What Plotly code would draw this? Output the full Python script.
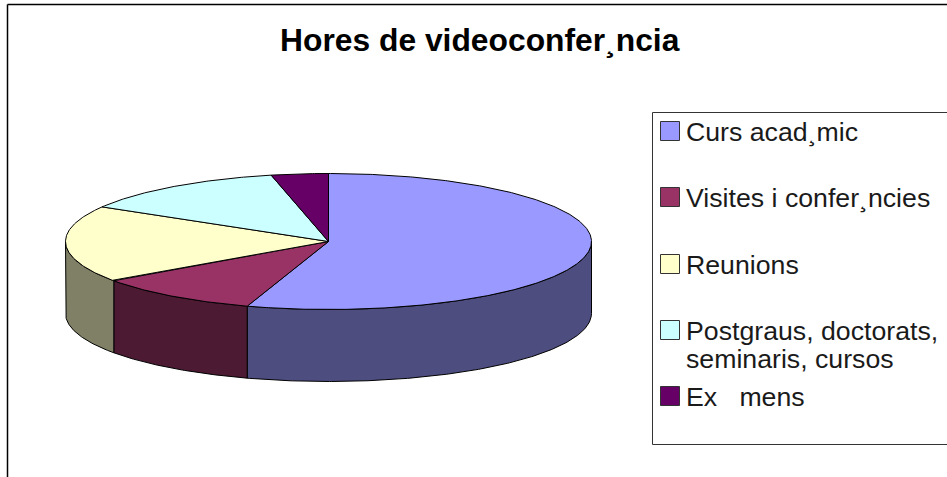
import numpy as np
import plotly.graph_objects as go

title = "Hores de videoconfer¸ncia"
categories = ["Curs acad¸mic", "Visites i confer¸ncies", "Reunions",
              "Postgraus, doctorats, seminaris, cursos", "Ex\u00a0\u00a0\u00a0mens"]
legend_lines = [["Curs acad¸mic"], ["Visites i confer¸ncies"], ["Reunions"],
                ["Postgraus, doctorats,", "seminaris, cursos"], ["Ex\u00a0\u00a0\u00a0mens"]]
values = [55.0, 10.2, 18.3, 13.0, 3.5]
top_colors = ["#9999FF", "#993366", "#FFFFCC", "#CCFFFF", "#660066"]
side_colors = ["#4D4D80", "#4D1A33", "#808066", "#668080", "#330033"]

W, H = 947, 477
CX, CY, RX, RY, DEPTH = 328.5, 241.5, 263, 68, 72
LINE = dict(color="#000000", width=1)

fracs = np.array(values) / sum(values)
edges = np.concatenate([[0], np.cumsum(fracs)]) * 2 * np.pi


def arc(a0, a1, dy=0.0):
    t = np.linspace(a0, a1, max(int((a1 - a0) * 120), 2))
    return CX + RX * np.sin(t), CY - RY * np.cos(t) + dy


fig = go.Figure()
front0, front1 = np.pi / 2, 3 * np.pi / 2
for i, name in enumerate(categories):
    a0, a1 = max(edges[i], front0), min(edges[i + 1], front1)
    if a1 > a0:
        x0, y0 = arc(a0, a1)
        x1, y1 = arc(a0, a1, DEPTH)
        fig.add_trace(go.Scatter(
            x=np.concatenate([x0, x1[::-1], x0[:1]]), y=np.concatenate([y0, y1[::-1], y0[:1]]),
            mode="lines", fill="toself", fillcolor=side_colors[i], line=LINE,
            name=name, hoverinfo="name", showlegend=False))
for i, name in enumerate(categories):
    x0, y0 = arc(edges[i], edges[i + 1])
    fig.add_trace(go.Scatter(
        x=np.concatenate([[CX], x0, [CX]]), y=np.concatenate([[CY], y0, [CY]]),
        mode="lines", fill="toself", fillcolor=top_colors[i], line=LINE,
        name=name, text=[f"{values[i]}"] * (len(x0) + 2), hoverinfo="name+text", showlegend=False))

swatch_y = [131, 197, 264, 330, 396]
fig.add_trace(go.Scatter(
    x=[670] * len(categories), y=swatch_y, mode="markers", hoverinfo="skip", showlegend=False,
    marker=dict(symbol="square", size=19, color=top_colors, line=dict(color="#333333", width=1))))

annotations = [dict(x=480, y=40, text=f"<b>{title}</b>", showarrow=False, xref="x", yref="y",
                    font=dict(family="Liberation Sans", size=31.8, color="#000000"))]
for lines, y in zip(legend_lines, swatch_y):
    for j, line in enumerate(lines):
        annotations.append(dict(x=684, y=y + 1 + j * 28, text=line, showarrow=False, xref="x", yref="y",
                                xanchor="left", font=dict(family="Liberation Sans", size=26.7, color="#1a1a1a")))

frame = dict(color="#000000", width=1.5)
shapes = [
    dict(type="line", x0=7.5, x1=7.5, y0=4.5, y1=H, line=frame),
    dict(type="line", x0=7.5, x1=W, y0=4.5, y1=4.5, line=frame),
    dict(type="path", path=f"M {W} 112.5 L 652.5 112.5 L 652.5 444.5 L {W} 444.5",
         line=dict(color="#333333", width=1)),
]
fig.update_layout(
    width=W, height=H, margin=dict(l=0, r=0, t=0, b=0), paper_bgcolor="white", plot_bgcolor="white",
    xaxis=dict(range=[0, W], visible=False, fixedrange=True),
    yaxis=dict(range=[H, 0], visible=False, fixedrange=True),
    annotations=annotations, shapes=shapes, showlegend=False)
fig.write_html("out.html", config={"displayModeBar": False},
               post_script="document.body.style.margin='0';document.documentElement.style.overflow='hidden';")
